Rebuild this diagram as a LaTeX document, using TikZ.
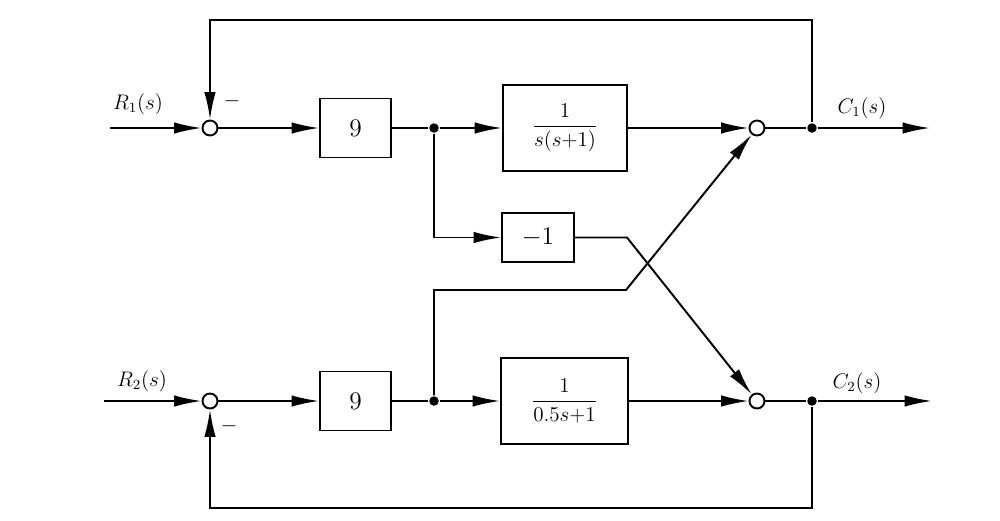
\documentclass[tikz,border=0pt]{standalone}
\usetikzlibrary{arrows.meta}
\newcommand{\dst}{\displaystyle}

\begin{document}
\begin{tikzpicture}[x=0.2mm,y=-0.2mm,line width=1.1pt,font=\large,
   blk/.style={draw,inner sep=0pt},
   sumc/.style={draw,circle,minimum size=3mm,inner sep=0pt,fill=white},
   jn/.style={circle,fill,minimum size=1.9mm,inner sep=0pt},
   sig/.style={-{Latex[length=5.5mm,width=2.3mm]}}]
   \useasboundingbox (0,0) rectangle (1000,520);
   % upper loop
   \coordinate (in1) at (110,128);
   \node[sumc] (s1) at (210,128) {};
   \node[blk,minimum width=14.2mm,minimum height=11.8mm,font=\Large] (k1) at (355.5,128) {$9$};
   \node[jn] (b1) at (434,128) {};
   \node[blk,minimum width=24.8mm,minimum height=17.2mm] (g1) at (565,128) {$\dst\frac{1}{s(s{+}1)}$};
   \node[sumc] (s3) at (757,128) {};
   \node[jn] (o1) at (812,128) {};
   \coordinate (c1) at (930,128);
   \coordinate (f1) at (510,20);
   % cross blocks
   \node[blk,minimum width=14.4mm,minimum height=9.8mm,font=\Large] (m1) at (538,237.5) {$-1$};
   \coordinate (x1) at (627,237.5);
   \coordinate (x2) at (626,290);
   % lower loop
   \coordinate (in2) at (104,401);
   \node[sumc] (s2) at (210,401) {};
   \node[blk,minimum width=14.2mm,minimum height=11.8mm,font=\Large] (k2) at (355.5,401) {$9$};
   \node[jn] (b2) at (434,401) {};
   \node[blk,minimum width=25.4mm,minimum height=17.2mm] (g2) at (564.5,401) {$\dst\frac{1}{0.5s{+}1}$};
   \node[sumc] (s4) at (757,401) {};
   \node[jn] (o2) at (812,401) {};
   \coordinate (c2) at (932,401);
   \coordinate (f2) at (510,508);
   % labels
   \node (r1) at (138,104) {$R_1(s)$};
   \node (r2) at (142,381) {$R_2(s)$};
   \node (y1) at (862,108) {$C_1(s)$};
   \node (y2) at (857,383) {$C_2(s)$};
   \node (n1) at (232,101) {$-$};
   \node (n2) at (229,426) {$-$};
   % signals
   \draw[sig] (in1) -- (s1);
   \draw[sig] (s1) -- (k1);
   \draw (k1) -- (b1);
   \draw[sig] (b1) -- (g1);
   \draw[sig] (g1) -- (s3);
   \draw (s3) -- (o1);
   \draw[sig] (o1) -- (c1);
   \draw[sig] (o1) |- (f1) -| (s1);
   \draw[sig] (in2) -- (s2);
   \draw[sig] (s2) -- (k2);
   \draw (k2) -- (b2);
   \draw[sig] (b2) -- (g2);
   \draw[sig] (g2) -- (s4);
   \draw (s4) -- (o2);
   \draw[sig] (o2) -- (c2);
   \draw[sig] (o2) |- (f2) -| (s2);
   \draw[sig] (b1) |- (m1);
   \draw[sig] (m1) -- (x1) -- (s4);
   \draw[sig] (b2) |- (x2) -- (s3);
\end{tikzpicture}
\end{document}
